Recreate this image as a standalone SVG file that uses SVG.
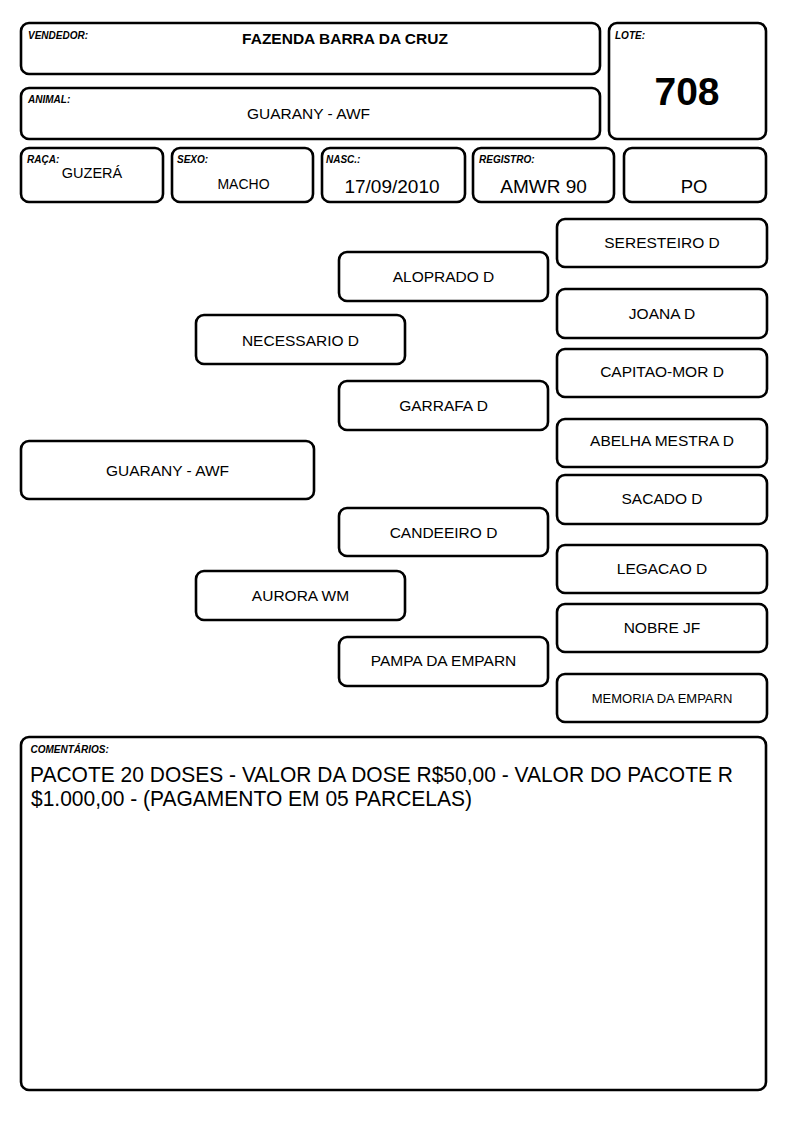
<svg xmlns="http://www.w3.org/2000/svg" width="794" height="1123" viewBox="0 0 794 1123">
<style>
.b{fill:#fff;stroke:#000;stroke-width:2.6}
.lb{font-family:"Liberation Sans",Arial,sans-serif;font-weight:bold;font-style:italic;font-size:10px;fill:#000}
.t{font-family:"Liberation Sans",Arial,sans-serif;font-size:15.5px;fill:#000;text-anchor:middle}
.s{font-family:"Liberation Sans",Arial,sans-serif;fill:#000;text-anchor:middle}
.c{font-family:"Liberation Sans",Arial,sans-serif;font-size:22px;fill:#000}
</style>
<rect width="794" height="1123" fill="#fff"/>
<g id="vendedor"><rect class="b" x="21" y="23" width="579" height="51" rx="8"/><text class="lb" x="28" y="39">VENDEDOR:</text><text class="s" x="345" y="43.5" font-size="15.5" font-weight="bold">FAZENDA BARRA DA CRUZ</text></g>
<g id="animal"><rect class="b" x="21" y="88" width="579" height="51" rx="8"/><text class="lb" x="28" y="103">ANIMAL:</text><text class="t" x="308.5" y="119">GUARANY - AWF</text></g>
<g id="lote"><rect class="b" x="609" y="23" width="157" height="116" rx="8"/><text class="lb" x="615" y="39">LOTE:</text><text class="s" x="687" y="105" font-size="39" font-weight="bold">708</text></g>
<g id="raca"><rect class="b" x="21" y="148" width="142" height="54" rx="8"/><text class="lb" x="27" y="163">RAÇA:</text><text class="s" x="92" y="177.5" font-size="14.5">GUZERÁ</text></g>
<g id="sexo"><rect class="b" x="172" y="148" width="141" height="54" rx="8"/><text class="lb" x="177" y="163">SEXO:</text><text class="s" x="243.5" y="189" font-size="14">MACHO</text></g>
<g id="nasc"><rect class="b" x="322" y="148" width="143" height="54" rx="8"/><text class="lb" x="326" y="163">NASC.:</text><text class="s" x="392" y="193" font-size="19">17/09/2010</text></g>
<g id="registro"><rect class="b" x="473" y="148" width="141" height="54" rx="8"/><text class="lb" x="479" y="163">REGISTRO:</text><text class="s" x="543.5" y="193" font-size="19">AMWR 90</text></g>
<g id="po"><rect class="b" x="624" y="148" width="142" height="54" rx="8"/><text class="s" x="694" y="193" font-size="18.5">PO</text></g>

<g id="p-guarany"><rect class="b" x="21" y="441" width="293" height="58" rx="8"/><text class="t" x="167.5" y="476">GUARANY - AWF</text></g>
<g id="p-necessario"><rect class="b" x="196" y="315" width="209" height="49" rx="8"/><text class="t" x="300.5" y="346">NECESSARIO D</text></g>
<g id="p-aurora"><rect class="b" x="196" y="571" width="209" height="49" rx="8"/><text class="t" x="300.5" y="601">AURORA WM</text></g>
<g id="p-aloprado"><rect class="b" x="339" y="252" width="209" height="49" rx="8"/><text class="t" x="443.5" y="282">ALOPRADO D</text></g>
<g id="p-garrafa"><rect class="b" x="339" y="381" width="209" height="49" rx="8"/><text class="t" x="443.5" y="411">GARRAFA D</text></g>
<g id="p-candeeiro"><rect class="b" x="339" y="508" width="209" height="48" rx="8"/><text class="t" x="443.5" y="538">CANDEEIRO D</text></g>
<g id="p-pampa"><rect class="b" x="339" y="637" width="209" height="49" rx="8"/><text class="t" x="443.5" y="666">PAMPA DA EMPARN</text></g>
<g id="p-seresteiro"><rect class="b" x="557" y="219" width="210" height="48" rx="8"/><text class="t" x="662" y="248">SERESTEIRO D</text></g>
<g id="p-joana"><rect class="b" x="557" y="289" width="210" height="49" rx="8"/><text class="t" x="662" y="319">JOANA D</text></g>
<g id="p-capitao"><rect class="b" x="557" y="349" width="210" height="48" rx="8"/><text class="t" x="662" y="377">CAPITAO-MOR D</text></g>
<g id="p-abelha"><rect class="b" x="557" y="419" width="210" height="48" rx="8"/><text class="t" x="662" y="446">ABELHA MESTRA D</text></g>
<g id="p-sacado"><rect class="b" x="557" y="475" width="210" height="49" rx="8"/><text class="t" x="662" y="503.5">SACADO D</text></g>
<g id="p-legacao"><rect class="b" x="557" y="545" width="210" height="48" rx="8"/><text class="t" x="662" y="574">LEGACAO D</text></g>
<g id="p-nobre"><rect class="b" x="557" y="604" width="210" height="48" rx="8"/><text class="t" x="662" y="633">NOBRE JF</text></g>
<g id="p-memoria"><rect class="b" x="557" y="674" width="210" height="48" rx="8"/><text class="s" x="662" y="703" font-size="13">MEMORIA DA EMPARN</text></g>
<g id="connectors"></g>

<g id="comentarios"><rect class="b" x="21" y="737" width="745" height="353" rx="8"/><text class="lb" x="30.5" y="752.5">COMENTÁRIOS:</text>
<text class="c" x="30" y="782" textLength="703" lengthAdjust="spacingAndGlyphs">PACOTE 20 DOSES - VALOR DA DOSE R$50,00 - VALOR DO PACOTE R</text>
<text class="c" x="31" y="805.5" textLength="441" lengthAdjust="spacingAndGlyphs">$1.000,00 - (PAGAMENTO EM 05 PARCELAS)</text></g>
</svg>
